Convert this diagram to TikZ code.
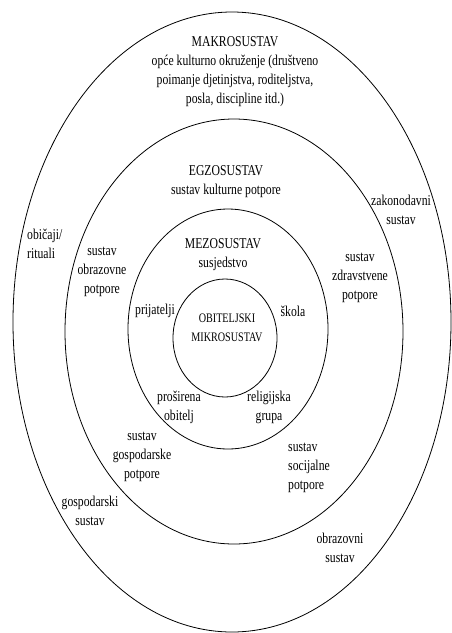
\documentclass[tikz,border=0pt]{standalone}
\usepackage{fontspec}
\setmainfont[FakeStretch=0.78]{Liberation Serif}
\tikzset{
  ring/.style={draw=black, line width=0.8pt},
  lbl/.style={inner sep=0pt, align=center, font=\fontsize{15}{19}\selectfont},
  lbll/.style={inner sep=0pt, align=left, font=\fontsize{15}{19}\selectfont},
  small/.style={inner sep=0pt, align=center, font=\fontsize{13}{19}\selectfont}
}
\begin{document}
\begin{tikzpicture}[x=1pt, y=-1pt]
\useasboundingbox[fill=white] (0,0) rectangle (451,633);
% ellipses
\draw[ring] (232,322) ellipse [x radius=219, y radius=310];
\draw[ring] (234,331.5) ellipse [x radius=169, y radius=212.5];
\draw[ring] (228,329) ellipse [x radius=100, y radius=120];
\draw[ring] (225,338) ellipse [x radius=52, y radius=59];
% labels
\node[lbl] (makro) at (235,72) {MAKROSUSTAV\\opće kulturno okruženje (društveno\\poimanje djetinjstva, roditeljstva,\\posla, discipline itd.)};
\node[lbl] (egzo) at (226,182) {EGZOSUSTAV\\sustav kulturne potpore};
\node[lbl] (zakon) at (401,210) {zakonodavni\\sustav};
\node[lbll, anchor=west] (obicaji) at (27,244) {običaji/\\rituali};
\node[lbl] (obraz) at (102,272) {sustav\\obrazovne\\potpore};
\node[lbl] (mezo) at (223,255) {MEZOSUSTAV\\susjedstvo};
\node[lbl] (zdrav) at (360,278) {sustav\\zdravstvene\\potpore};
\node[lbl] (prij) at (155,311) {prijatelji};
\node[lbl] (skola) at (293,311) {škola};
\node[small] (mikro) at (227,328) {OBITELJSKI\\MIKROSUSTAV};
\node[lbl] (prosir) at (179,407) {proširena\\obitelj};
\node[lbl] (relig) at (269,407) {religijska\\grupa};
\node[lbl] (gosppot) at (142,457) {sustav\\gospodarske\\potpore};
\node[lbll, anchor=west] (soc) at (288,468) {sustav\\socijalne\\potpore};
\node[lbl] (gospsus) at (90,511) {gospodarski\\sustav};
\node[lbl] (obrsus) at (340,548) {obrazovni\\sustav};
\end{tikzpicture}
\end{document}
